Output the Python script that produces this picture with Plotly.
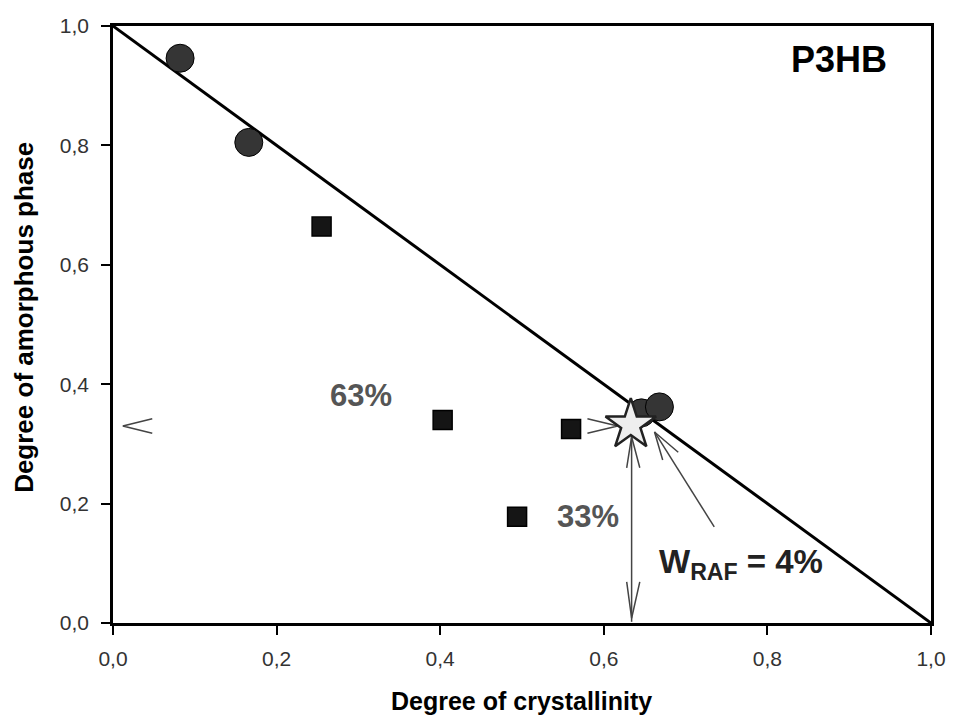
import plotly.graph_objects as go

# ---- data ----
circle_x = [0.082, 0.166, 0.646, 0.668]
circle_y = [0.946, 0.805, 0.352, 0.362]
square_x = [0.255, 0.403, 0.494, 0.560]
square_y = [0.664, 0.340, 0.178, 0.325]
star_x = [0.633]
star_y = [0.332]
line_x = [0.0, 1.0]
line_y = [1.0, 0.0]
tick_vals = [0.0, 0.2, 0.4, 0.6, 0.8, 1.0]
tick_text = ["0,0", "0,2", "0,4", "0,6", "0,8", "1,0"]

# arrow strokes (data coordinates), None separates strokes
arrow_x = [0.048, 0.012, 0.048, None,
           0.580, 0.617, 0.580, None,
           0.634, 0.634, None,
           0.628, 0.634, 0.644, None,
           0.628, 0.634, 0.644, None,
           0.662, 0.735, None,
           0.672, 0.662, 0.691]
arrow_y = [0.342, 0.330, 0.318, None,
           0.342, 0.330, 0.318, None,
           0.315, 0.002, None,
           0.260, 0.312, 0.260, None,
           0.069, 0.008, 0.069, None,
           0.320, 0.161, None,
           0.273, 0.320, 0.286]

FONT = "Liberation Sans, Arial, sans-serif"

fig = go.Figure()
fig.add_trace(go.Scatter(x=line_x, y=line_y, mode="lines",
                         line=dict(color="black", width=3), hoverinfo="skip"))
fig.add_trace(go.Scatter(x=arrow_x, y=arrow_y, mode="lines",
                         line=dict(color="#444444", width=1.5), hoverinfo="skip"))
fig.add_trace(go.Scatter(x=square_x, y=square_y, mode="markers",
                         marker=dict(symbol="square", size=19, color="#151515",
                                     line=dict(color="black", width=1.5))))
fig.add_trace(go.Scatter(x=circle_x, y=circle_y, mode="markers",
                         marker=dict(symbol="circle", size=28, color="#353535",
                                     line=dict(color="black", width=1))))
fig.add_trace(go.Scatter(x=star_x, y=star_y, mode="markers",
                         marker=dict(symbol="star", size=38, color="#eeeeee",
                                     line=dict(color="#222222", width=2.5))))

axis_common = dict(
    range=[0, 1], tickvals=tick_vals, ticktext=tick_text,
    showgrid=False, zeroline=False, showline=True, linecolor="black",
    linewidth=2.5, mirror=True, ticks="outside", ticklen=9, tickwidth=2,
    tickcolor="black", tickfont=dict(family=FONT, size=21, color="#333333"),
)
fig.update_xaxes(**axis_common, ticklabelstandoff=6)
fig.update_yaxes(**axis_common, ticklabelstandoff=8)

annotations = [
    dict(text="<b>P3HB</b>", x=846, y=60, font=dict(size=36, color="black")),
    dict(text="<b>63%</b>", x=363, y=395, font=dict(size=31, color="#555555")),
    dict(text="<b>33%</b>", x=593, y=516, font=dict(size=31, color="#555555")),
    dict(text="<b>W<sub>RAF</sub> = 4%</b>", x=747, y=564, font=dict(size=33, color="#222222")),
]
l, t, pw, ph = 113, 26, 826, 597
ann = []
for a in annotations:
    ann.append(dict(text=a["text"], xref="paper", yref="paper",
                    x=(a["x"] - l) / pw, y=(t + ph - a["y"]) / ph,
                    xanchor="center", yanchor="middle", showarrow=False,
                    font=dict(family=FONT, **a["font"])))
ann.append(dict(text="<b>Degree of crystallinity</b>", xref="paper", yref="paper",
                x=(525 - l) / pw, y=(t + ph - 701) / ph, xanchor="center",
                yanchor="middle", showarrow=False,
                font=dict(family=FONT, size=25, color="black")))
ann.append(dict(text="<b>Degree of amorphous phase</b>", xref="paper", yref="paper",
                x=(23 - l) / pw, y=(t + ph - 317) / ph, xanchor="center",
                yanchor="middle", showarrow=False, textangle=-90,
                font=dict(family=FONT, size=26, color="black")))

fig.update_layout(
    width=958, height=718, showlegend=False,
    margin=dict(l=l, r=958 - l - pw, t=t, b=718 - t - ph, pad=0),
    paper_bgcolor="white", plot_bgcolor="white",
    annotations=ann,
)
fig.write_html("out.html")
